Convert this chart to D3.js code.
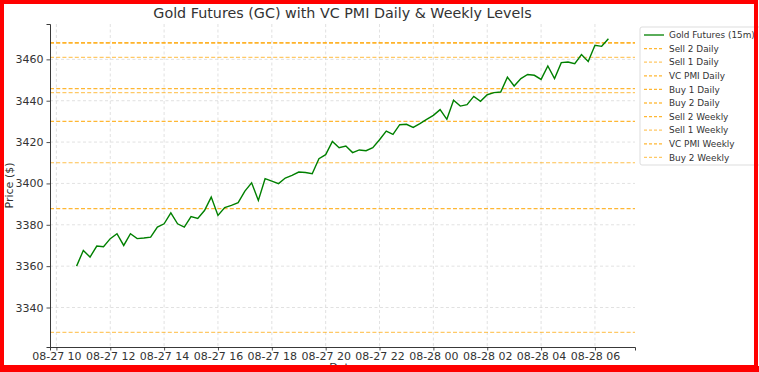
<!DOCTYPE html>
<html>
<head>
<meta charset="utf-8">
<script src="https://cdn.jsdelivr.net/npm/d3@7"></script>
<style>
  body { margin: 0; background: #fff; }
  svg { display: block; font-family: "DejaVu Sans", sans-serif; }
</style>
</head>
<body>
<div id="chart"></div>
<script>
// 15 minute closes, first bar 08-27 10:45
var prices = [
  3360.0, 3367.6, 3364.4, 3369.7, 3369.4, 3373.3, 3375.7, 3370.0, 3375.7, 3373.3,
  3373.6, 3374.0, 3378.9, 3380.5, 3385.8, 3380.5, 3378.9, 3384.0, 3383.1, 3386.9,
  3393.4, 3384.5, 3388.3, 3389.4, 3390.7, 3396.3, 3400.3, 3391.8, 3402.3, 3401.1,
  3399.9, 3402.6, 3403.9, 3405.5, 3405.3, 3404.7, 3412.0, 3413.9, 3420.3, 3417.3,
  3418.1, 3414.9, 3416.2, 3415.8, 3417.3, 3421.1, 3425.3, 3423.7, 3428.4, 3428.6,
  3427.1, 3428.9, 3431.0, 3432.9, 3435.7, 3431.0, 3440.2, 3437.4, 3438.1, 3442.1,
  3439.7, 3442.9, 3443.9, 3444.2, 3451.4, 3447.1, 3450.7, 3452.7, 3452.3, 3450.3,
  3456.8, 3450.7, 3458.4, 3458.7, 3457.9, 3462.3, 3459.0, 3466.8, 3466.3, 3470.0
];

// VC PMI levels
var levelNames = ["Sell 2 Daily", "Sell 1 Daily", "VC PMI Daily", "Buy 1 Daily", "Buy 2 Daily",
                  "Sell 2 Weekly", "Sell 1 Weekly", "VC PMI Weekly", "Buy 2 Weekly"];
var levelValues = [3468.0, 3461.0, 3445.8, 3430.0, 3410.0, 3468.0, 3443.9, 3387.8, 3328.0];
var levelAlpha = [0.8, 0.6, 0.8, 0.8, 0.7, 0.8, 0.6, 0.8, 0.6];

var yTicks = [3340, 3360, 3380, 3400, 3420, 3440, 3460];

var svgWidth = 759;
var svgHeight = 372;
var margin = { top: 24, right: 124, bottom: 25, left: 50 };
var width = svgWidth - margin.left - margin.right;
var height = svgHeight - margin.top - margin.bottom;

var startTime = new Date(2025, 7, 27, 10, 45);
var data = prices.map(function(p, i) {
  return { time: d3.timeMinute.offset(startTime, 15 * i), price: p };
});

var svg = d3.select("#chart").append("svg")
  .attr("width", svgWidth)
  .attr("height", svgHeight);

var chartGroup = svg.append("g")
  .attr("transform", `translate(${margin.left}, ${margin.top})`);

// matplotlib style 5% padding
var tExt = d3.extent(data, d => d.time);
var tPad = (tExt[1] - tExt[0]) * 0.05;
var xScale = d3.scaleTime()
  .domain([new Date(+tExt[0] - tPad), new Date(+tExt[1] + tPad)])
  .range([0, width]);

var allY = prices.concat(levelValues);
var yMin = d3.min(allY), yMax = d3.max(allY);
var yPad = (yMax - yMin) * 0.05;
var yScale = d3.scaleLinear()
  .domain([yMin - yPad, yMax + yPad])
  .range([height, 0]);

var xTicks = xScale.ticks(d3.timeHour.every(2));

// grid
chartGroup.append("g").selectAll("line")
  .data(xTicks).enter().append("line")
  .attr("x1", d => xScale(d)).attr("x2", d => xScale(d))
  .attr("y1", 0).attr("y2", height)
  .attr("stroke", "#d9d9d9").attr("stroke-width", 0.8)
  .attr("stroke-dasharray", "3,2.5");

chartGroup.append("g").selectAll("line")
  .data(yTicks).enter().append("line")
  .attr("x1", 0).attr("x2", width)
  .attr("y1", d => yScale(d)).attr("y2", d => yScale(d))
  .attr("stroke", "#d9d9d9").attr("stroke-width", 0.8)
  .attr("stroke-dasharray", "3,2.5");

// level lines
chartGroup.append("g").selectAll("line")
  .data(levelValues).enter().append("line")
  .attr("x1", 0).attr("x2", width)
  .attr("y1", d => yScale(d)).attr("y2", d => yScale(d))
  .attr("stroke", "orange")
  .attr("stroke-opacity", (d, i) => levelAlpha[i])
  .attr("stroke-width", 1.2)
  .attr("stroke-dasharray", "4,2.2");

// price line
var line = d3.line()
  .x(d => xScale(d.time))
  .y(d => yScale(d.price));

chartGroup.append("path")
  .datum(data)
  .attr("fill", "none")
  .attr("stroke", "green")
  .attr("stroke-width", 1.4)
  .attr("d", line);

// axes
var xAxis = d3.axisBottom(xScale)
  .tickValues(xTicks)
  .tickFormat(d3.timeFormat("%m-%d %H"))
  .tickSize(3.5).tickPadding(2);
var yAxis = d3.axisLeft(yScale)
  .tickValues(yTicks)
  .tickFormat(d3.format("d"))
  .tickSize(3.5).tickPadding(3);

var gx = chartGroup.append("g")
  .attr("transform", `translate(0, ${height})`)
  .call(xAxis);
var gy = chartGroup.append("g").call(yAxis);

[gx, gy].forEach(function(g) {
  g.select(".domain").attr("stroke", "#222").attr("stroke-width", 0.9);
  g.selectAll(".tick line").attr("stroke", "#222").attr("stroke-width", 0.8);
  g.selectAll(".tick text")
    .attr("fill", "#333")
    .style("font-family", "DejaVu Sans")
    .style("font-size", "11px");
});

// labels
svg.append("text")
  .attr("x", margin.left + width / 2)
  .attr("y", 18)
  .attr("text-anchor", "middle")
  .attr("fill", "#333")
  .style("font-size", "14.3px")
  .text("Gold Futures (GC) with VC PMI Daily & Weekly Levels");

svg.append("text")
  .attr("transform", `translate(13, ${margin.top + height / 2}) rotate(-90)`)
  .attr("text-anchor", "middle")
  .attr("fill", "#333")
  .style("font-size", "11px")
  .text("Price ($)");

svg.append("text")
  .attr("x", margin.left + width / 2)
  .attr("y", 371)
  .attr("text-anchor", "middle")
  .attr("fill", "#333")
  .style("font-size", "11px")
  .text("Date");

// legend
var legendItems = [{ name: "Gold Futures (15m)", color: "green", alpha: 1, dash: null }]
  .concat(levelNames.map(function(n, i) {
    return { name: n, color: "orange", alpha: levelAlpha[i], dash: "3,2" };
  }));

var legend = svg.append("g")
  .attr("transform", "translate(640, 27)");

legend.append("rect")
  .attr("x", 0).attr("y", 0)
  .attr("width", 125).attr("height", 138)
  .attr("rx", 2)
  .attr("fill", "#fff")
  .attr("stroke", "#ddd");

var rows = legend.selectAll(".row")
  .data(legendItems).enter().append("g")
  .attr("transform", (d, i) => `translate(0, ${8 + i * 13.6})`);

rows.append("line")
  .attr("x1", 4).attr("x2", 24)
  .attr("stroke", d => d.color)
  .attr("stroke-opacity", d => d.alpha)
  .attr("stroke-width", 1.3)
  .attr("stroke-dasharray", d => d.dash);

rows.append("text")
  .attr("x", 29).attr("y", 3.2)
  .attr("fill", "#333")
  .style("font-size", "8.9px")
  .text(d => d.name);

// red frame
svg.append("rect")
  .attr("x", 2).attr("y", 2)
  .attr("width", svgWidth - 5).attr("height", svgHeight - 7)
  .attr("fill", "none")
  .attr("stroke", "red")
  .attr("stroke-width", 4);
svg.append("rect")
  .attr("x", 0).attr("y", 366)
  .attr("width", svgWidth).attr("height", 6)
  .attr("fill", "red");
</script>
</body>
</html>
